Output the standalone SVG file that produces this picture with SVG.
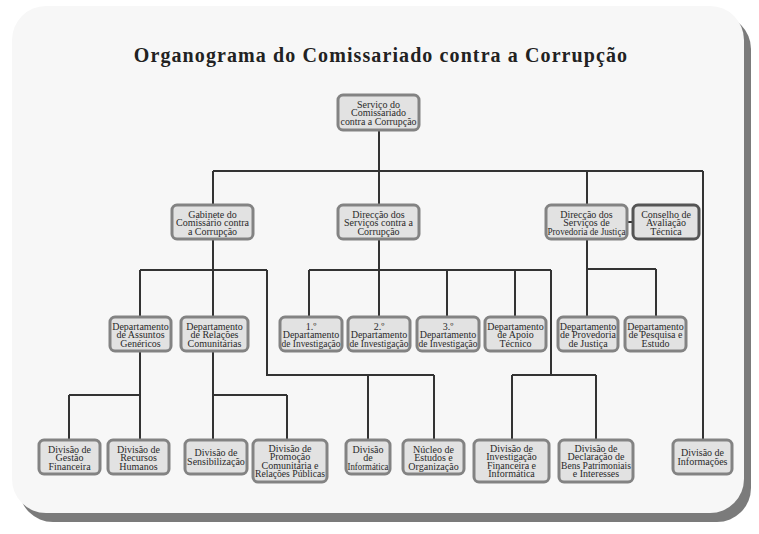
<svg xmlns="http://www.w3.org/2000/svg" width="759" height="534" viewBox="0 0 759 534">
<style>
.bx{fill:#e2e2e2;stroke:#838383;stroke-width:3}
.bxd{fill:#e2e2e2;stroke:#555555;stroke-width:3}
.t{font-family:"Liberation Serif","Times New Roman",serif;font-size:10px;fill:#2a2a2a;text-anchor:middle}
.ln{fill:none;stroke:#333333;stroke-width:2}
.title{font-family:"Liberation Serif","Times New Roman",serif;font-size:20px;font-weight:bold;fill:#222222;text-anchor:middle;letter-spacing:1.1px}
</style>
<rect width="759" height="534" fill="#ffffff"/>
<rect x="19" y="15" width="732" height="507" rx="34" fill="#7b7b7b"/>
<rect x="12" y="6" width="732" height="507" rx="34" fill="#f7f7f7"/>
<text class="title" x="381" y="62">Organograma do Comissariado contra a Corrupção</text>
<g id="connectors">
<path class="ln" d="M379 130V171M213 171H703M213 171V205M379 171V205M587 171V205M703 171V440"/>
<path class="ln" d="M627 222H633"/>
<path class="ln" d="M213 239V270M140 270H267M140 270V317M213 270V317M267 270V375H434M368 375V440M434 375V440"/>
<path class="ln" d="M379 239V270M309 270H551M309 270V317M379 270V317M447 270V317M515 270V317M551 270V375M512 375H596M512 375V440M596 375V440"/>
<path class="ln" d="M587 239V269M587 269H656M587 269V317M656 269V317"/>
<path class="ln" d="M140 351V395M69 395H140M69 395V440M140 395V440"/>
<path class="ln" d="M213 351V395H287M213 395V440M287 395V440"/>
</g>
<g id="n-root"><rect class="bx" x="338" y="95" width="81" height="35" rx="5"/><text class="t" x="378.5" y="108">Serviço do</text><text class="t" x="378.5" y="116.3">Comissariado</text><text class="t" x="378.5" y="124.6" textLength="76" lengthAdjust="spacingAndGlyphs">contra a Corrupção</text></g>
<g id="n-gabinete"><rect class="bx" x="172" y="205" width="81" height="34" rx="5"/><text class="t" x="212.5" y="218">Gabinete do</text><text class="t" x="212.5" y="226.3">Comissário contra</text><text class="t" x="212.5" y="234.6">a Corrupção</text></g>
<g id="n-dsc"><rect class="bx" x="338" y="205" width="81" height="34" rx="5"/><text class="t" x="378.5" y="218">Direcção dos</text><text class="t" x="378.5" y="226.3">Serviços contra a</text><text class="t" x="378.5" y="234.6">Corrupção</text></g>
<g id="n-dspj"><rect class="bx" x="546" y="205" width="81" height="34" rx="5"/><text class="t" x="586.5" y="218">Direcção dos</text><text class="t" x="586.5" y="226.3">Serviços de</text><text class="t" x="586.5" y="234.6" textLength="78" lengthAdjust="spacingAndGlyphs">Provedoria de Justiça</text></g>
<g id="n-conselho"><rect class="bxd" x="633" y="205" width="66" height="34" rx="5"/><text class="t" x="666" y="218">Conselho de</text><text class="t" x="666" y="226.3">Avaliação</text><text class="t" x="666" y="234.6">Técnica</text></g>
<g id="n-dag"><rect class="bx" x="110" y="317" width="61" height="34" rx="5"/><text class="t" x="140.5" y="330">Departamento</text><text class="t" x="140.5" y="338.3">de Assuntos</text><text class="t" x="140.5" y="346.6">Genéricos</text></g>
<g id="n-drc"><rect class="bx" x="181" y="317" width="67" height="34" rx="5"/><text class="t" x="214.5" y="330">Departamento</text><text class="t" x="214.5" y="338.3">de Relações</text><text class="t" x="214.5" y="346.6">Comunitárias</text></g>
<g id="n-di1"><rect class="bx" x="280" y="317" width="62" height="34" rx="5"/><text class="t" x="311" y="330">1.º</text><text class="t" x="311" y="338.3">Departamento</text><text class="t" x="311" y="346.6" textLength="59" lengthAdjust="spacingAndGlyphs">de Investigação</text></g>
<g id="n-di2"><rect class="bx" x="348" y="317" width="62" height="34" rx="5"/><text class="t" x="379" y="330">2.º</text><text class="t" x="379" y="338.3">Departamento</text><text class="t" x="379" y="346.6" textLength="59" lengthAdjust="spacingAndGlyphs">de Investigação</text></g>
<g id="n-di3"><rect class="bx" x="417" y="317" width="62" height="34" rx="5"/><text class="t" x="448" y="330">3.º</text><text class="t" x="448" y="338.3">Departamento</text><text class="t" x="448" y="346.6" textLength="59" lengthAdjust="spacingAndGlyphs">de Investigação</text></g>
<g id="n-dat"><rect class="bx" x="485" y="317" width="61" height="34" rx="5"/><text class="t" x="515.5" y="330">Departamento</text><text class="t" x="515.5" y="338.3">de Apoio</text><text class="t" x="515.5" y="346.6">Técnico</text></g>
<g id="n-dpj"><rect class="bx" x="558" y="317" width="60" height="34" rx="5"/><text class="t" x="588" y="330">Departamento</text><text class="t" x="588" y="338.3">de Provedoria</text><text class="t" x="588" y="346.6">de Justiça</text></g>
<g id="n-dpe"><rect class="bx" x="625" y="317" width="61" height="34" rx="5"/><text class="t" x="655.5" y="330">Departamento</text><text class="t" x="655.5" y="338.3">de Pesquisa e</text><text class="t" x="655.5" y="346.6">Estudo</text></g>
<g id="n-dgf"><rect class="bx" x="39" y="440" width="61" height="34" rx="5"/><text class="t" x="69.5" y="453">Divisão de</text><text class="t" x="69.5" y="461.3">Gestão</text><text class="t" x="69.5" y="469.6">Financeira</text></g>
<g id="n-drh"><rect class="bx" x="108" y="440" width="61" height="34" rx="5"/><text class="t" x="138.5" y="453">Divisão de</text><text class="t" x="138.5" y="461.3">Recursos</text><text class="t" x="138.5" y="469.6">Humanos</text></g>
<g id="n-ds"><rect class="bx" x="185" y="440" width="62" height="34" rx="5"/><text class="t" x="216" y="456.3">Divisão de</text><text class="t" x="216" y="464.6">Sensibilização</text></g>
<g id="n-dpc"><rect class="bx" x="253" y="440" width="74" height="42" rx="5"/><text class="t" x="290" y="451.8">Divisão de</text><text class="t" x="290" y="460.3">Promoção</text><text class="t" x="290" y="468.8">Comunitária e</text><text class="t" x="290" y="477.3" textLength="70" lengthAdjust="spacingAndGlyphs">Relações Públicas</text></g>
<g id="n-dinf"><rect class="bx" x="346" y="440" width="44" height="34" rx="5"/><text class="t" x="368" y="453">Divisão</text><text class="t" x="368" y="461.3">de</text><text class="t" x="368" y="469.6" textLength="41" lengthAdjust="spacingAndGlyphs">Informática</text></g>
<g id="n-neo"><rect class="bx" x="403" y="440" width="61" height="34" rx="5"/><text class="t" x="433.5" y="453">Núcleo de</text><text class="t" x="433.5" y="461.3">Estudos e</text><text class="t" x="433.5" y="469.6">Organização</text></g>
<g id="n-difi"><rect class="bx" x="474" y="440" width="75" height="42" rx="5"/><text class="t" x="511.5" y="451.8">Divisão de</text><text class="t" x="511.5" y="460.3">Investigação</text><text class="t" x="511.5" y="468.8">Financeira e</text><text class="t" x="511.5" y="477.3">Informática</text></g>
<g id="n-ddb"><rect class="bx" x="559" y="440" width="74" height="42" rx="5"/><text class="t" x="596" y="451.8">Divisão de</text><text class="t" x="596" y="460.3">Declaração de</text><text class="t" x="596" y="468.8" textLength="70" lengthAdjust="spacingAndGlyphs">Bens Patrimoniais</text><text class="t" x="596" y="477.3">e Interesses</text></g>
<g id="n-dinfo"><rect class="bx" x="673" y="440" width="59" height="34" rx="5"/><text class="t" x="702.5" y="456.3">Divisão de</text><text class="t" x="702.5" y="464.6">Informações</text></g>
</svg>
